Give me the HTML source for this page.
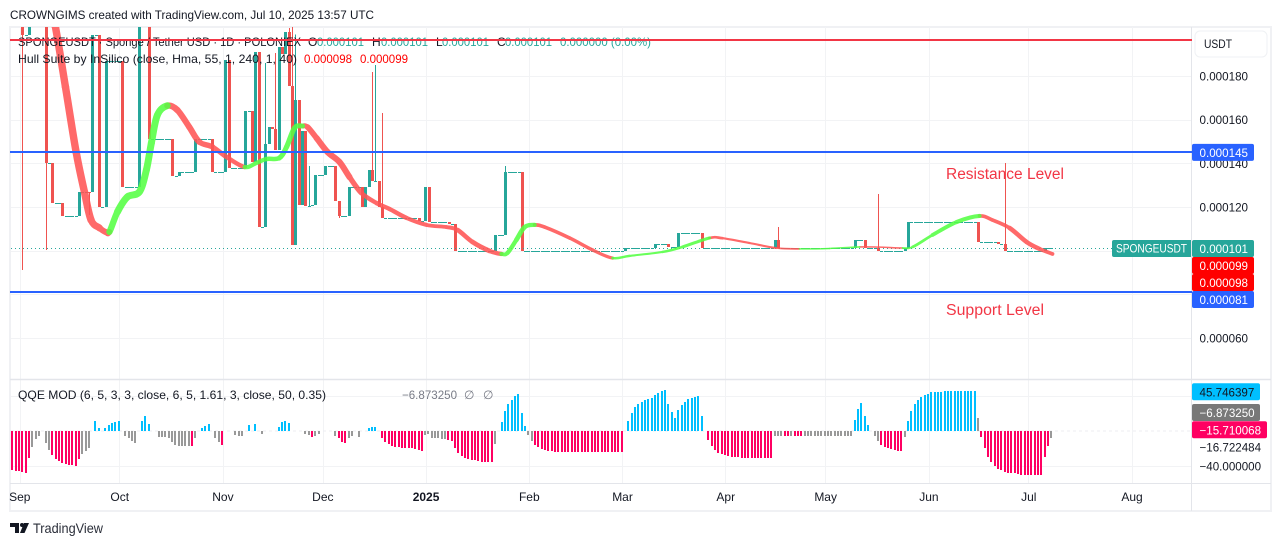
<!DOCTYPE html>
<html lang="en">
<head>
<meta charset="utf-8">
<title>SPONGEUSDT chart</title>
<style>
html,body{margin:0;padding:0;background:#fff;width:1281px;height:546px;overflow:hidden}
svg{display:block;font-family:"Liberation Sans",sans-serif}
</style>
</head>
<body>
<svg id="chart" xmlns="http://www.w3.org/2000/svg" width="1281" height="546" viewBox="0 0 1281 546">
  <rect x="0" y="0" width="1281" height="546" fill="#ffffff"/>
  <text x="10" y="19" font-size="12" fill="#131722" textLength="364" lengthAdjust="spacingAndGlyphs">CROWNGIMS created with TradingView.com, Jul 10, 2025 13:57 UTC</text>
  <rect x="10" y="27" width="1261" height="484" fill="none" stroke="#f0f1f4" stroke-width="2"/>
  <g id="grid" shape-rendering="crispEdges"></g>
  <line x1="10" x2="1271" y1="483.5" y2="483.5" stroke="#e3e5ea" stroke-width="1"/>
  <line x1="10" x2="1271" y1="379.5" y2="379.5" stroke="#e3e5ea" stroke-width="1.5"/>
  <line x1="1191.5" x2="1191.5" y1="27" y2="511" stroke="#e3e5ea" stroke-width="1"/>
  <g id="candles" clip-path="url(#price-clip)" shape-rendering="crispEdges"></g>
  <line id="last-price-line" x1="11" x2="1112" stroke="#26a69a" stroke-width="1" stroke-dasharray="1 3" shape-rendering="crispEdges"/>
  <g id="hull" clip-path="url(#price-clip)"></g>

  <text x="18" y="46" font-size="12" fill="#131722" textLength="283" lengthAdjust="spacingAndGlyphs">SPONGEUSDT · Sponge / Tether USD · 1D · POLONIEX</text>
  <text x="308" y="46" font-size="12" fill="#131722">O</text>
  <text x="317" y="46" font-size="12" fill="#26a69a" textLength="47" lengthAdjust="spacingAndGlyphs">0.000101</text>
  <text x="372" y="46" font-size="12" fill="#131722">H</text>
  <text x="381" y="46" font-size="12" fill="#26a69a" textLength="47" lengthAdjust="spacingAndGlyphs">0.000101</text>
  <text x="436" y="46" font-size="12" fill="#131722">L</text>
  <text x="442" y="46" font-size="12" fill="#26a69a" textLength="47" lengthAdjust="spacingAndGlyphs">0.000101</text>
  <text x="497" y="46" font-size="12" fill="#131722">C</text>
  <text x="505" y="46" font-size="12" fill="#26a69a" textLength="47" lengthAdjust="spacingAndGlyphs">0.000101</text>
  <text x="560" y="46" font-size="12" fill="#26a69a" textLength="91" lengthAdjust="spacingAndGlyphs">0.000000 (0.00%)</text>
  <text x="18" y="63" font-size="12" fill="#131722" textLength="279" lengthAdjust="spacingAndGlyphs">Hull Suite by InSilico (close, Hma, 55, 1, 240, 1, 40)</text>
  <text x="304" y="63" font-size="12" fill="#ff0000" textLength="48" lengthAdjust="spacingAndGlyphs">0.000098</text>
  <text x="360" y="63" font-size="12" fill="#ff0000" textLength="48" lengthAdjust="spacingAndGlyphs">0.000099</text>

  <g id="levels"></g>
  <text x="946" y="179" font-size="15.5" fill="#f23645" textLength="118" lengthAdjust="spacingAndGlyphs">Resistance Level</text>
  <text x="946" y="315" font-size="15.5" fill="#f23645" textLength="98" lengthAdjust="spacingAndGlyphs">Support Level</text>

  <line x1="11" x2="1191" y1="431" y2="431" stroke="#eceef2" stroke-width="1" stroke-dasharray="3 3"/>
  <g id="qqe" shape-rendering="crispEdges"></g>
  <text x="18" y="399" font-size="12" fill="#131722" textLength="308" lengthAdjust="spacingAndGlyphs">QQE MOD (6, 5, 3, 3, close, 6, 5, 1.61, 3, close, 50, 0.35)</text>
  <text x="402" y="399" font-size="12" fill="#787b86" textLength="55" lengthAdjust="spacingAndGlyphs">−6.873250</text>
  <text x="464" y="399" font-size="12" fill="#787b86">∅</text>
  <text x="483" y="399" font-size="12" fill="#787b86">∅</text>

  <g id="price-ticks"></g>
  <g id="qqe-ticks"></g>
  <g id="time-ticks"></g>

  <rect x="1195" y="31" width="72" height="26" rx="5" fill="#ffffff" stroke="#eff1f4" stroke-width="1"/>
  <text x="1204" y="48" font-size="12" fill="#131722" textLength="28" lengthAdjust="spacingAndGlyphs">USDT</text>

  <path d="M1114 240H1191V257H1114a2 2 0 0 1-2-2V242a2 2 0 0 1 2-2Z" fill="#26a69a"/>
  <text x="1116" y="252.500" font-size="11.600" fill="#ffffff" textLength="71" lengthAdjust="spacingAndGlyphs">SPONGEUSDT</text>

  <g>
    <path d="M10 523H19V533H15V527H10Z" fill="#131722"/>
    <circle cx="22" cy="525" r="2" fill="#131722"/>
    <path d="M24 523H29L24.500 533H20Z" fill="#131722"/>
    <text x="33" y="533" font-size="14" fill="#2a2e39" textLength="70" lengthAdjust="spacingAndGlyphs">TradingView</text>
  </g>
  <defs>
    <clipPath id="price-clip"><rect x="11" y="27" width="1181" height="352"/></clipPath>
  </defs>
</svg>
<script>
// ---- Candle data, prices in millionths of USDT, one close per day, day 0 = 2 Sep 2024 ----
const closes = [
215,198.8,198.8,215,215,215,215,215,140.1,140.1,
121.8,121.8,121.8,115.9,115.9,115.9,115.9,115.9,126.9,126.9,
126.9,126.8,198.8,198.8,120,120,186.9,186.9,186.9,186.9,
186.9,129.2,129.2,129.2,129.2,129.2,215,215,215,151.1,
151.1,151.1,151.1,151.1,151.1,151.1,134.2,134.2,136,136,
136,136,136,151.1,151.1,151.1,151.1,151.1,136,136,
136,136,187.3,137.9,137.9,137.9,137.9,137.9,164,164,
140.6,191,110.8,110.8,148.9,156.6,155.7,146,193.3,190,
200,175.4,102.6,169,120.9,154.8,120.4,120.4,120.9,134.6,
134.6,134.6,138.8,138.8,138.8,122.7,115.9,115.9,115.9,129.2,
129.2,129.2,129.2,120,129.2,136.9,131.9,131.9,120,114.9,
114.9,114.9,114.9,114.9,114.9,114.9,114.9,114.9,114.9,114.9,
113.6,113.6,129.2,113.1,113.1,113.1,113.1,113.1,113.1,112.2,
112.2,99.8,99.8,99.8,99.8,99.8,99.8,99.8,99.8,99.8,
99.8,99.8,99.8,107.2,107.2,107.2,136,136,136,136,
136,99.8,99.8,99.8,99.8,99.8,99.8,99.8,99.8,99.8,
99.8,99.8,99.8,99.8,99.8,99.8,99.8,99.8,99.8,99.8,
99.8,99.8,99.8,99.8,99.8,99.8,99.8,99.8,99.8,99.8,
99.8,99.8,101,101,101,101,101,101,101,101,
101,103,103,103,103,101.7,101.7,101.7,108.1,108.1,
108.1,108.1,108.1,108.1,108.1,101,101,101,101,101,
101,101,101,101,101,101,101,101,101,101,
101,101,101,101,101,101,101,104.9,101,101,
101,101,101,101,101,101,101,101,101,101,
101,101,101,101,101,101,101,101,101,101,
101,104.9,104.9,104.9,101,101,101,101,99.8,99.8,
99.8,99.8,99.8,99.8,99.8,99.8,101,113.1,113.1,113.1,
113.1,113.1,113.1,113.1,113.1,113.1,113.1,113.1,113.1,113.1,
113.1,113.1,113.1,113.1,113.1,113.1,113.1,113.1,104,104,
104,104,104,104,103,103,99.8,99.8,99.8,99.8,
99.8,99.8,99.8,99.8,99.8,99.8,99.8,99.8,101,101,
101];
const firstOpen = 225;
const wickHighDays = [1,74,77,81,82,83,87,106,107,109,146,228,258,296];
const wickHighs = [225,186,190.5,202,225,199,138.8,181.8,185,163,138.8,110.8,125.9,140.1];
const wickLowDays = [1,8,21,96];
const wickLows = [91.2,100.3,116.3,115];

// ---- Hull Suite band ----
const hullDays = [9,10.8,13.8,17,19.5,21.5,24,25.8,27,29.4,32.4,36,38.1,39.6,41.4,44.4,47.4,51,54,58,62.2,67.6,71.2,74.2,78,80.2,82.6,85,86.5,89.2,92.5,96.1,99.1,102.7,107.2,111.1,116.2,122.2,128.2,131.5,136,141.1,144.7,146.5,149.2,151.7,154.7,157.7,165.2,172.1,178.1,183.2,193.1,199.1,207.2,211.1,219.2,227.3,234.2,243.2,252.3,258.3,265.2,268.2,274.2,281.4,288.3,292.2,297.3,302.4,306.3,310.2];
const hullMid = [212.9,202.4,175,145.2,126.9,114,110.4,108.6,108.6,117.7,124.6,126.9,136.9,149.3,162.1,166.4,164.4,156.6,149.8,147.5,142.9,138.3,140.2,142,142.4,147.5,156.2,157.1,156.6,151.6,145.2,140.6,133.7,126.4,121.8,119.1,115,111.8,110.8,109.5,104,99.9,98.5,98.9,104.9,110.8,111.8,110.8,105.8,100.3,96.6,97.6,99.4,101.7,105.8,105.7,103.5,101.2,100.8,101,101.7,101.6,101.2,101.7,107.2,113.1,115.9,114,110.4,104,100.8,98.5];
const hullSpread = [3.4,3.4,3.4,3.4,3.4,3.4,3,2.6,2.6,3.2,3.2,3.2,3.2,3.2,3.2,3,2.8,2.8,2.8,2.2,2.2,1.9,1.9,2,2.2,2.4,2.4,2.2,2.4,2.8,2.8,2.8,2.8,2,2,2,2,1.8,1.6,2,2.2,2.2,1.8,1.8,2.2,2.2,1.7,1.7,1.6,1.6,1.4,0.9,1,1.3,1.5,1,1,0.9,0.7,0.7,0.7,0.7,0.7,1,1.6,1.9,1.9,1.4,2,2.2,1.9,1.6];

// ---- QQE MOD histogram, one value per day from day -2 ----
const qqeFirstDay = -2;
const qqeValues = [
-44.6,-45.3,-45.7,-46.9,-47.6,-30.9,-17.9,-9.1,-5.3,0,
-13.3,-21.7,-27.4,-32.4,-34.3,-36.6,-37.7,-38.5,-39.2,-40,
-32,-26.3,-22.9,-19.8,0,11.4,3,0,3,6.9,
9.5,10.7,11.4,0,-6.1,-8.4,-11,-13.7,0,11.4,
17.1,8,0,0,-6.5,-6.9,-7.2,-8.4,-12.2,-16,
-16.8,-16.8,-16.8,-17.1,-17.1,-7.6,0,3,6.1,8,
0,-8.4,-12.2,-16,0,0,0,-4.6,-5.3,-5.7,
0,6.9,0,8,0,-3.8,0,0,0,0,
5,9.9,11.4,9.5,0,0,0,0,-3.8,-4.6,
-6.5,-5.3,-3.8,0,0,0,0,-5.3,-8.4,-12.2,
-13.3,-8.4,-5.3,0,-6.5,0,0,3,4.6,4.6,
0,-7.6,-12.2,-14.9,-17.1,-17.9,-18.7,-19,-19,-19.4,
-19.8,-20.6,-21.7,-22.9,-4.6,-3.8,-7.6,-7.6,-8,-8.8,
-9.1,-10.3,-11.4,-19,-24.8,-29,-30.9,-32,-33.1,-33.5,
-34.3,-35.1,-35.4,-35.4,-35.4,-14.9,0,10.3,22.9,30.9,
35.4,39.6,42.3,20.2,5.7,-4.6,-11.4,-16,-18.7,-20.6,
-22.1,-22.9,-23.2,-23.6,-24,-24,-24,-24,-24,-24,
-24,-24,-24,-24,-24,-24,-24,-24,-24,-24,
-24,-24,-24,-24,0,11.8,20.6,27.8,30.9,33.1,
35.4,36.6,37.7,41.1,43.8,46.1,46.9,30.9,22.1,15.2,
24,29.7,33.5,36.6,37.3,38.9,40,17.1,0,-10.3,
-16.8,-21.7,-24.8,-26.3,-27.4,-28.6,-29.3,-29.7,-30.1,-30.9,
-30.9,-30.9,-30.9,-30.9,-30.9,-30.9,-30.9,-30.9,-30.9,-5.7,
-5.7,-5.7,-5.7,-5.7,-5.7,-5.7,-5.7,-5.7,-5.7,-5.7,
-5.7,-5.7,-5.7,-5.7,-5.7,-5.7,-5.7,-5.7,-5.7,-5.7,
-5.7,-5.7,-5.7,12.6,25.1,32,17.1,6.9,0,-5.3,
-11.4,-16,-17.9,-19,-20.2,-21.3,-22.5,-22.9,-6.9,11.4,
22.9,30.9,35.4,38.5,41.1,42.3,44.2,45,45,45,
45.7,45.7,45.7,45.7,45.7,45.7,45.7,45.7,45.7,45.7,
14.5,-6.9,-19.8,-30.1,-35.1,-40,-43.1,-45,-46.5,-47.6,
-48,-48.4,-49.5,-49.9,-50.3,-50.3,-50.3,-50.3,-50.3,-50.3,
-29.3,-17.1,-7.6];
const qqePinkFrom = [-2,10,52,61,88,96,109,129,155,207,230,233,259,289];
const qqePinkTo = [3,18,52,61,88,98,121,142,181,226,231,235,265,309];
const qqeGrayUpDays = [288];

// ---- Axis labels and levels ----
const priceTicks = [180,160,140,120,60];
const priceTickLabels = ['0.000180','0.000160','0.000140','0.000120','0.000060'];
const gridPrices = [180,160,140,120,100,80,60];
const qqeGridValues = [40,-40];
const monthDays = [0,30,61,91,122,153,181,212,242,273,303,334];
const monthLabels = ['Sep','Oct','Nov','Dec','2025','Feb','Mar','Apr','May','Jun','Jul','Aug'];
const levelPrices = [196.3,145,81];
const levelColors = ['#f23645','#2962ff','#2962ff'];
const lastPrice = 101;
const axisTagPrices = [145,101,99,98,81];
const axisTagLabels = ['0.000145','0.000101','0.000099','0.000098','0.000081'];
const axisTagColors = ['#2962ff','#26a69a','#ff0000','#ff0000','#2962ff'];
const qqeTagLabels = ['45.746397','−6.873250','−15.710068'];
const qqeTagColors = ['#00bfff','#787878','#ff0062'];
const qqeTagTextColors = ['#131722','#ffffff','#ffffff'];
const qqeTickRows = [-18.5,-40];
const qqeTickLabels = ['−16.722484','−40.000000'];

// ---- Axis functions ----
const NS = 'http://www.w3.org/2000/svg';
const xAt = d => 19.5 + 3.33 * d;
const yAt = p => 76 + (180 - p) * 2.183;
const qqeY = v => 431 - 0.875 * v;
function make(tag, attrs, parent) {
  const el = document.createElementNS(NS, tag);
  for (const k in attrs) el.setAttribute(k, attrs[k]);
  parent.appendChild(el);
  return el;
}

// Grid
const gridGroup = document.getElementById('grid');
gridPrices.forEach(p => {
  const y = Math.round(yAt(p)) + 0.5;
  const el = make('line', {x1: 11, x2: 1191, y1: y, y2: y, stroke: '#f2f3f5', 'stroke-width': 1}, gridGroup);
  
  
});
qqeGridValues.forEach(v => {
  const y = Math.round(qqeY(v)) + 0.5;
  const el = make('line', {x1: 11, x2: 1191, y1: y, y2: y, stroke: '#f2f3f5', 'stroke-width': 1}, gridGroup);
  
  
});
monthDays.forEach(d => {
  const x = Math.round(xAt(d)) + 0.5;
  const el = make('line', {x1: x, x2: x, y1: 27, y2: 483, stroke: '#f2f3f5', 'stroke-width': 1}, gridGroup);
  
  
});

// Candles
const candleGroup = document.getElementById('candles');
closes.forEach((close, d) => {
  const open = d === 0 ? firstOpen : closes[d - 1];
  const color = close >= open ? '#26a69a' : '#ef5350';
  const left = Math.round(xAt(d) - 1.5);
  const hi = wickHighDays.indexOf(d);
  const lo = wickLowDays.indexOf(d);
  if (hi >= 0 || lo >= 0) {
    const top = hi >= 0 ? wickHighs[hi] : Math.max(open, close);
    const bottom = lo >= 0 ? wickLows[lo] : Math.min(open, close);
    const wick = make('line', {x1: left + 1.5, x2: left + 1.5, y1: yAt(top), y2: yAt(bottom), stroke: color, 'stroke-width': 1}, candleGroup);
    
    
  }
  const yTop = Math.round(yAt(Math.max(open, close)));
  const yBot = Math.round(yAt(Math.min(open, close)));
  const body = make('rect', {x: left, y: yTop, width: 3, height: Math.max(1, yBot - yTop), fill: color}, candleGroup);
  
  
});

// Last price
const lastLine = document.getElementById('last-price-line');
lastLine.setAttribute('y1', Math.round(yAt(lastPrice)) + 0.5);
lastLine.setAttribute('y2', Math.round(yAt(lastPrice)) + 0.5);

// Hull band
const hullGroup = document.getElementById('hull');
const hullRed = make('g', {opacity: 0.88}, hullGroup);


const hullGreen = make('g', {opacity: 0.88}, hullGroup);


const hullPoint = i => {
  const k = Math.max(0, Math.min(hullDays.length - 1, i));
  return [xAt(hullDays[k]), yAt(hullMid[k])];
};
for (let i = 0; i < hullDays.length - 1; i++) {
  const p0 = hullPoint(i - 1), p1 = hullPoint(i), p2 = hullPoint(i + 1), p3 = hullPoint(i + 2);
  const c1x = p1[0] + (p2[0] - p0[0]) / 6, c1y = p1[1] + (p2[1] - p0[1]) / 6;
  const c2x = p2[0] - (p3[0] - p1[0]) / 6, c2y = p2[1] - (p3[1] - p1[1]) / 6;
  const rising = hullMid[i + 1] > hullMid[i];
  const seg = make('path', {
    d: 'M' + p1[0] + ' ' + p1[1] + 'C' + c1x + ' ' + c1y + ' ' + c2x + ' ' + c2y + ' ' + p2[0] + ' ' + p2[1],
    fill: 'none',
    stroke: rising ? '#55ff44' : '#ff5555',
    'stroke-width': 2.183 * (hullSpread[i] + hullSpread[i + 1]) / 2,
    'stroke-linecap': 'round'
  }, rising ? hullGreen : hullRed);
  
  
}

// Horizontal levels
const levelGroup = document.getElementById('levels');
levelPrices.forEach((p, i) => {
  const y = Math.round(yAt(p));
  const el = make('line', {x1: 10, x2: 1192, y1: y, y2: y, stroke: levelColors[i], 'stroke-width': 2}, levelGroup);
  
  
});

// QQE histogram
const qqeGroup = document.getElementById('qqe');
qqeValues.forEach((v, i) => {
  if (v === 0) return;
  const d = qqeFirstDay + i;
  const pink = qqePinkFrom.some((from, k) => d >= from && d <= qqePinkTo[k]);
  const gray = !pink && (v < 0 || qqeGrayUpDays.indexOf(d) >= 0);
  const color = pink ? '#ff0062' : gray ? '#999999' : '#00bfff';
  const y0 = Math.round(qqeY(0)), y1 = Math.round(qqeY(v));
  const bar = make('rect', {x: Math.round(xAt(d) - 1.6), y: Math.min(y0, y1), width: 2, height: Math.max(1, Math.abs(y1 - y0)), fill: color}, qqeGroup);
  
  
});

// Price axis
const priceGroup = document.getElementById('price-ticks');
priceTicks.forEach((p, i) => {
  const t = make('text', {x: 1199.500, y: yAt(p) + 4.5, 'font-size': 11.600, fill: '#131722', textLength: 48.500, lengthAdjust: 'spacingAndGlyphs'}, priceGroup);
  t.textContent = priceTickLabels[i];
  
  
});
// Tags stack downward when their prices would overlap
let tagFloor = -Infinity;
const tagRows = axisTagPrices.map(p => {
  const y = Math.max(yAt(p), tagFloor + 17);
  tagFloor = y;
  return y;
});
tagRows.forEach((y, i) => {
  const r = make('rect', {x: 1192, y: y - 8.500, width: 62, height: 17, rx: 2, fill: axisTagColors[i]}, priceGroup);
  
  
});
tagRows.forEach((y, i) => {
  const t = make('text', {x: 1199.500, y: y + 4.5, 'font-size': 11.600, fill: '#ffffff', textLength: 48.500, lengthAdjust: 'spacingAndGlyphs'}, priceGroup);
  t.textContent = axisTagLabels[i];
  
  
});

// QQE axis
const qqeTickGroup = document.getElementById('qqe-ticks');
qqeTagLabels.forEach((label, i) => {
  const y = i === 1 ? 412.500 : i === 0 ? 391.800 : 429.800;
  const w = i === 2 ? 75 : 68;
  const r = make('rect', {x: 1192, y: y - 8.500, width: w, height: 17, rx: 2, fill: qqeTagColors[i]}, qqeTickGroup);
  
  
  const t = make('text', {x: 1199.500, y: y + 4.5, 'font-size': 11.600, fill: qqeTagTextColors[i]}, qqeTickGroup);
  t.textContent = label;
  
  
});
qqeTickRows.forEach((v, i) => {
  const t = make('text', {x: 1199.500, y: qqeY(v) + 4.5, 'font-size': 11.600, fill: '#131722'}, qqeTickGroup);
  t.textContent = qqeTickLabels[i];
  
  
});

// Time axis
const timeGroup = document.getElementById('time-ticks');
monthDays.forEach((d, i) => {
  const isYear = monthLabels[i] === '2025';
  const t = make('text', {x: xAt(d) + 0.3, y: 501, 'font-size': 12, 'text-anchor': 'middle', 'font-weight': isYear ? 'bold' : 'normal', fill: '#131722'}, timeGroup);
  t.textContent = monthLabels[i];
  
  
});
</script>
</body>
</html>
